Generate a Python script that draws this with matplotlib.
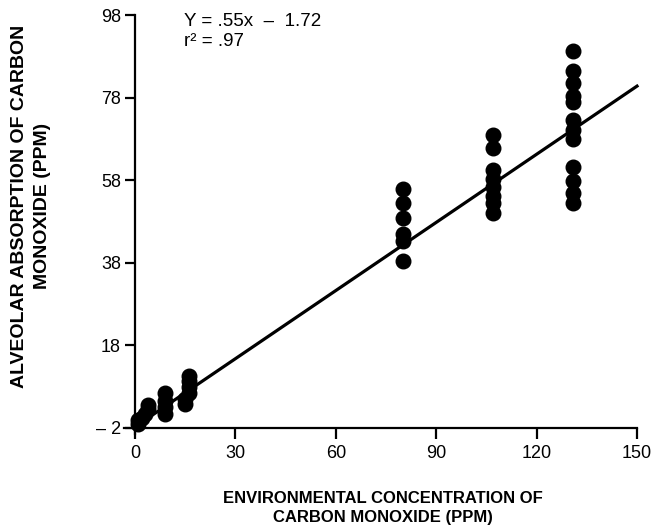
import matplotlib.pyplot as plt
import numpy as np

plt.rcParams['font.family'] = ['Liberation Sans', 'DejaVu Sans']

# Datos
conc = [1, 1, 2, 3, 4, 4,
        9, 9, 9, 9,
        15, 15, 16, 16, 16, 16,
        80, 80, 80, 80, 80, 80,
        107, 107, 107, 107, 107, 107, 107, 107,
        131, 131, 131, 131, 131, 131, 131, 131, 131, 131, 131, 131]
absorb = [-1, 0, 0.5, 1.5, 2.5, 3.5,
          1.5, 3, 4.5, 6.5,
          3.8, 5, 6.5, 8, 9.5, 10.7,
          55.9, 52.5, 48.9, 45.0, 43.3, 38.4,
          69.0, 65.8, 60.5, 58.3, 56.4, 54.2, 52.5, 50.1,
          89.2, 84.4, 81.5, 78.4, 76.9, 72.6, 70.2, 68.0, 61.2, 57.9, 55.0, 52.6]

slope = 0.55
intercept = -1.72

xticks = [0, 30, 60, 90, 120, 150]
yticks = [-2, 18, 38, 58, 78, 98]
ytick_labels = ['\u2013 2', '18', '38', '58', '78', '98']

fig = plt.figure(figsize=(6.52, 5.32), dpi=100)
ax = fig.add_axes([135 / 652, 104 / 532, 502 / 652, 413 / 532])

ax.scatter(conc, absorb, s=110, color='black', zorder=3, clip_on=False)

x_line = np.array([0, 150])
ax.plot(x_line, slope * x_line + intercept, color='black', lw=2.3, clip_on=False)

ax.set_xlim(0, 150)
ax.set_ylim(-2, 98)
ax.set_xticks(xticks)
ax.set_yticks(yticks)
ax.set_yticklabels(ytick_labels)

for s in ['top', 'right']:
    ax.spines[s].set_visible(False)
ax.spines['left'].set_linewidth(1.6)
ax.spines['bottom'].set_linewidth(1.6)
ax.spines['bottom'].set_bounds(-3.3, 150)
ax.spines['left'].set_bounds(-3.5, 98)

ax.tick_params(axis='x', length=8, width=1.6, labelsize=13, pad=4)
ax.tick_params(axis='y', length=7, width=1.6, labelsize=13, pad=3)

ax.text(14.5, 96.5, 'Y = .55x  \u2013  1.72', fontsize=13.5, va='center')
ax.text(14.5, 91.5, 'r\u00b2 = .97', fontsize=13.5, va='center')

fig.text(0.0475, 1 - 206 / 532, 'ALVEOLAR ABSORPTION OF CARBON\nMONOXIDE (PPM)',
         rotation=90, ha='center', va='center', fontsize=14, fontweight='bold',
         linespacing=1.4)
fig.text(383 / 652, 1 - 508 / 532, 'ENVIRONMENTAL CONCENTRATION OF\nCARBON MONOXIDE (PPM)',
         ha='center', va='center', fontsize=12, fontweight='bold', linespacing=1.35)

fig.savefig('out.png', dpi=100)
